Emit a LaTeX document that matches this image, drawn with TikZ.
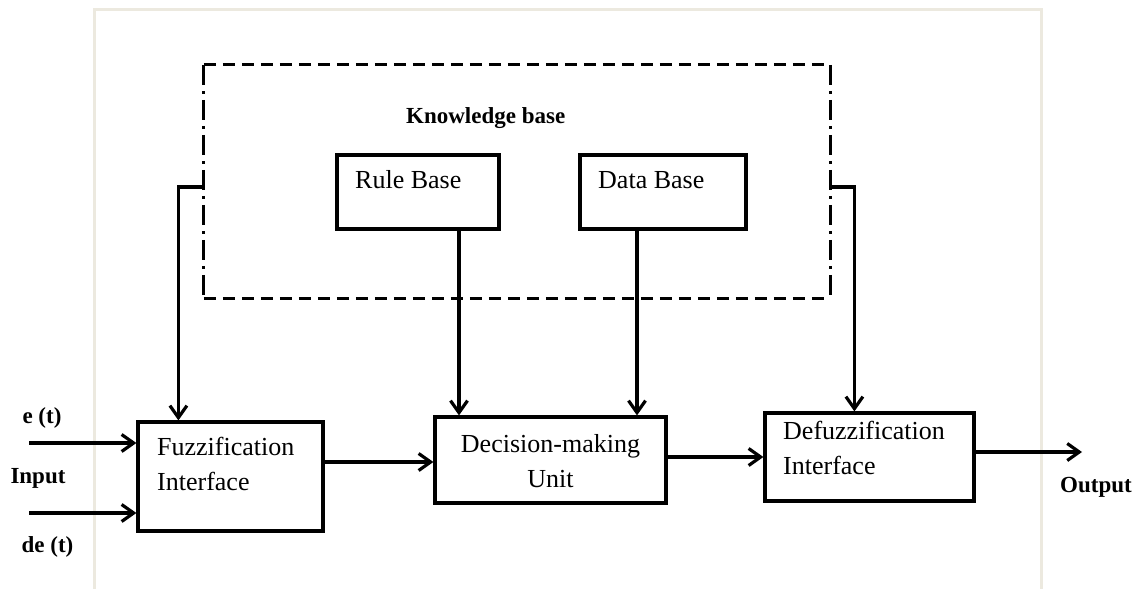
\documentclass[tikz,border=0pt]{standalone}
\usepackage{fontspec}
\setmainfont{Liberation Serif}
\usetikzlibrary{arrows.meta, positioning}

\definecolor{framebeige}{RGB}{236,233,223}

\tikzset{
  block/.style={draw, line width=3.2pt, inner sep=0pt},
  region/.style={inner sep=0pt},
  boxtext/.style={font=\fontsize{26}{35}\selectfont, inner sep=0pt},
  tag/.style={font=\fontsize{23}{28}\selectfont\bfseries, inner sep=0pt},
  flow/.style={line width=3.2pt, -{Straight Barb[length=12pt, width=17pt, line width=3.2pt]}},
  kbdash/.style={line width=3.2pt, dash pattern=on 12pt off 7pt},
  kbdashdot/.style={line width=3.2pt, dash pattern=on 20pt off 6pt on 3pt off 6pt}
}

\begin{document}
\begin{tikzpicture}[x=1pt, y=-1pt]
        \useasboundingbox (0,0) rectangle (1143,589);

        % Add the frame
        \draw[framebeige, line width=3pt] (94,589) |- (1041,9) -- (1041,589);

        % Add the blocks
        \node[region, minimum width=626pt, minimum height=233pt] (kb) at (517,181.5) {};
        \node[block, minimum width=162pt, minimum height=74pt]   (rule)   at (418,192)   {};
        \node[block, minimum width=166pt, minimum height=74pt]   (data)   at (663,192)   {};
        \node[block, minimum width=185pt, minimum height=109pt]  (fuzz)   at (230.5,476.5) {};
        \node[block, minimum width=231pt, minimum height=86pt]   (dec)    at (550.5,460) {};
        \node[block, minimum width=209pt, minimum height=88pt]   (defuzz) at (869.5,457) {};

        % Add the texts
        \node[boxtext, anchor=base west] (ruletext) at (355,188) {Rule Base};
        \node[boxtext, anchor=base west] (datatext) at (598,188) {Data Base};
        \node[boxtext, anchor=north west, align=left]   (fuzztext)   at (157,437)   {Fuzzification\\Interface};
        \node[boxtext, anchor=north, align=center]      (dectext)    at (550.5,434) {Decision-making\\Unit};
        \node[boxtext, anchor=north west, align=left]   (defuzztext) at (783,421)   {Defuzzification\\Interface};

        \node[tag, anchor=base west] (kbtag)    at (406,123)  {Knowledge base};
        \node[tag, anchor=base]      (etag)     at (42,423)   {e (t)};
        \node[tag, anchor=base]      (inputtag) at (38,483)   {Input};
        \node[tag, anchor=base]      (detag)    at (47.5,552) {de (t)};
        \node[tag, anchor=base]      (outtag)   at (1096,492) {Output};

        % Add the knowledge base border
        \draw[kbdash]    (kb.north west) -- (kb.north east);
        \draw[kbdash]    (kb.south west) -- (kb.south east);
        \draw[kbdashdot] (kb.north west) -- (kb.south west);
        \draw[kbdashdot] (kb.north east) -- (kb.south east);

        % Connect the blocks with arrows
        \coordinate (ein)  at (29,443);
        \coordinate (dein) at (29,513);
        \coordinate (out)  at (1082,452);
        \draw[flow] (ein)  -- (ein -| fuzz.west);
        \draw[flow] (dein) -- (dein -| fuzz.west);
        \draw[flow] ([yshift=14.5pt]fuzz.east) -- ([yshift=14.5pt]fuzz.east -| dec.west);
        \draw[flow] ([yshift=3pt]dec.east) -- ([yshift=3pt]dec.east -| defuzz.west);
        \draw[flow] ([yshift=5pt]defuzz.east) -- (out);
        \draw[flow] ([yshift=-5.5pt]kb.west) -| ([xshift=42pt]fuzz.north west);
        \draw[flow] ([yshift=-5.5pt]kb.east) -| ([xshift=91pt]defuzz.north west);
        \draw[flow] ([xshift=41pt]rule.south) -- ([xshift=41pt]rule.south |- dec.north);
        \draw[flow] ([xshift=-26pt]data.south) -- ([xshift=-26pt]data.south |- dec.north);
    \end{tikzpicture}
\end{document}
